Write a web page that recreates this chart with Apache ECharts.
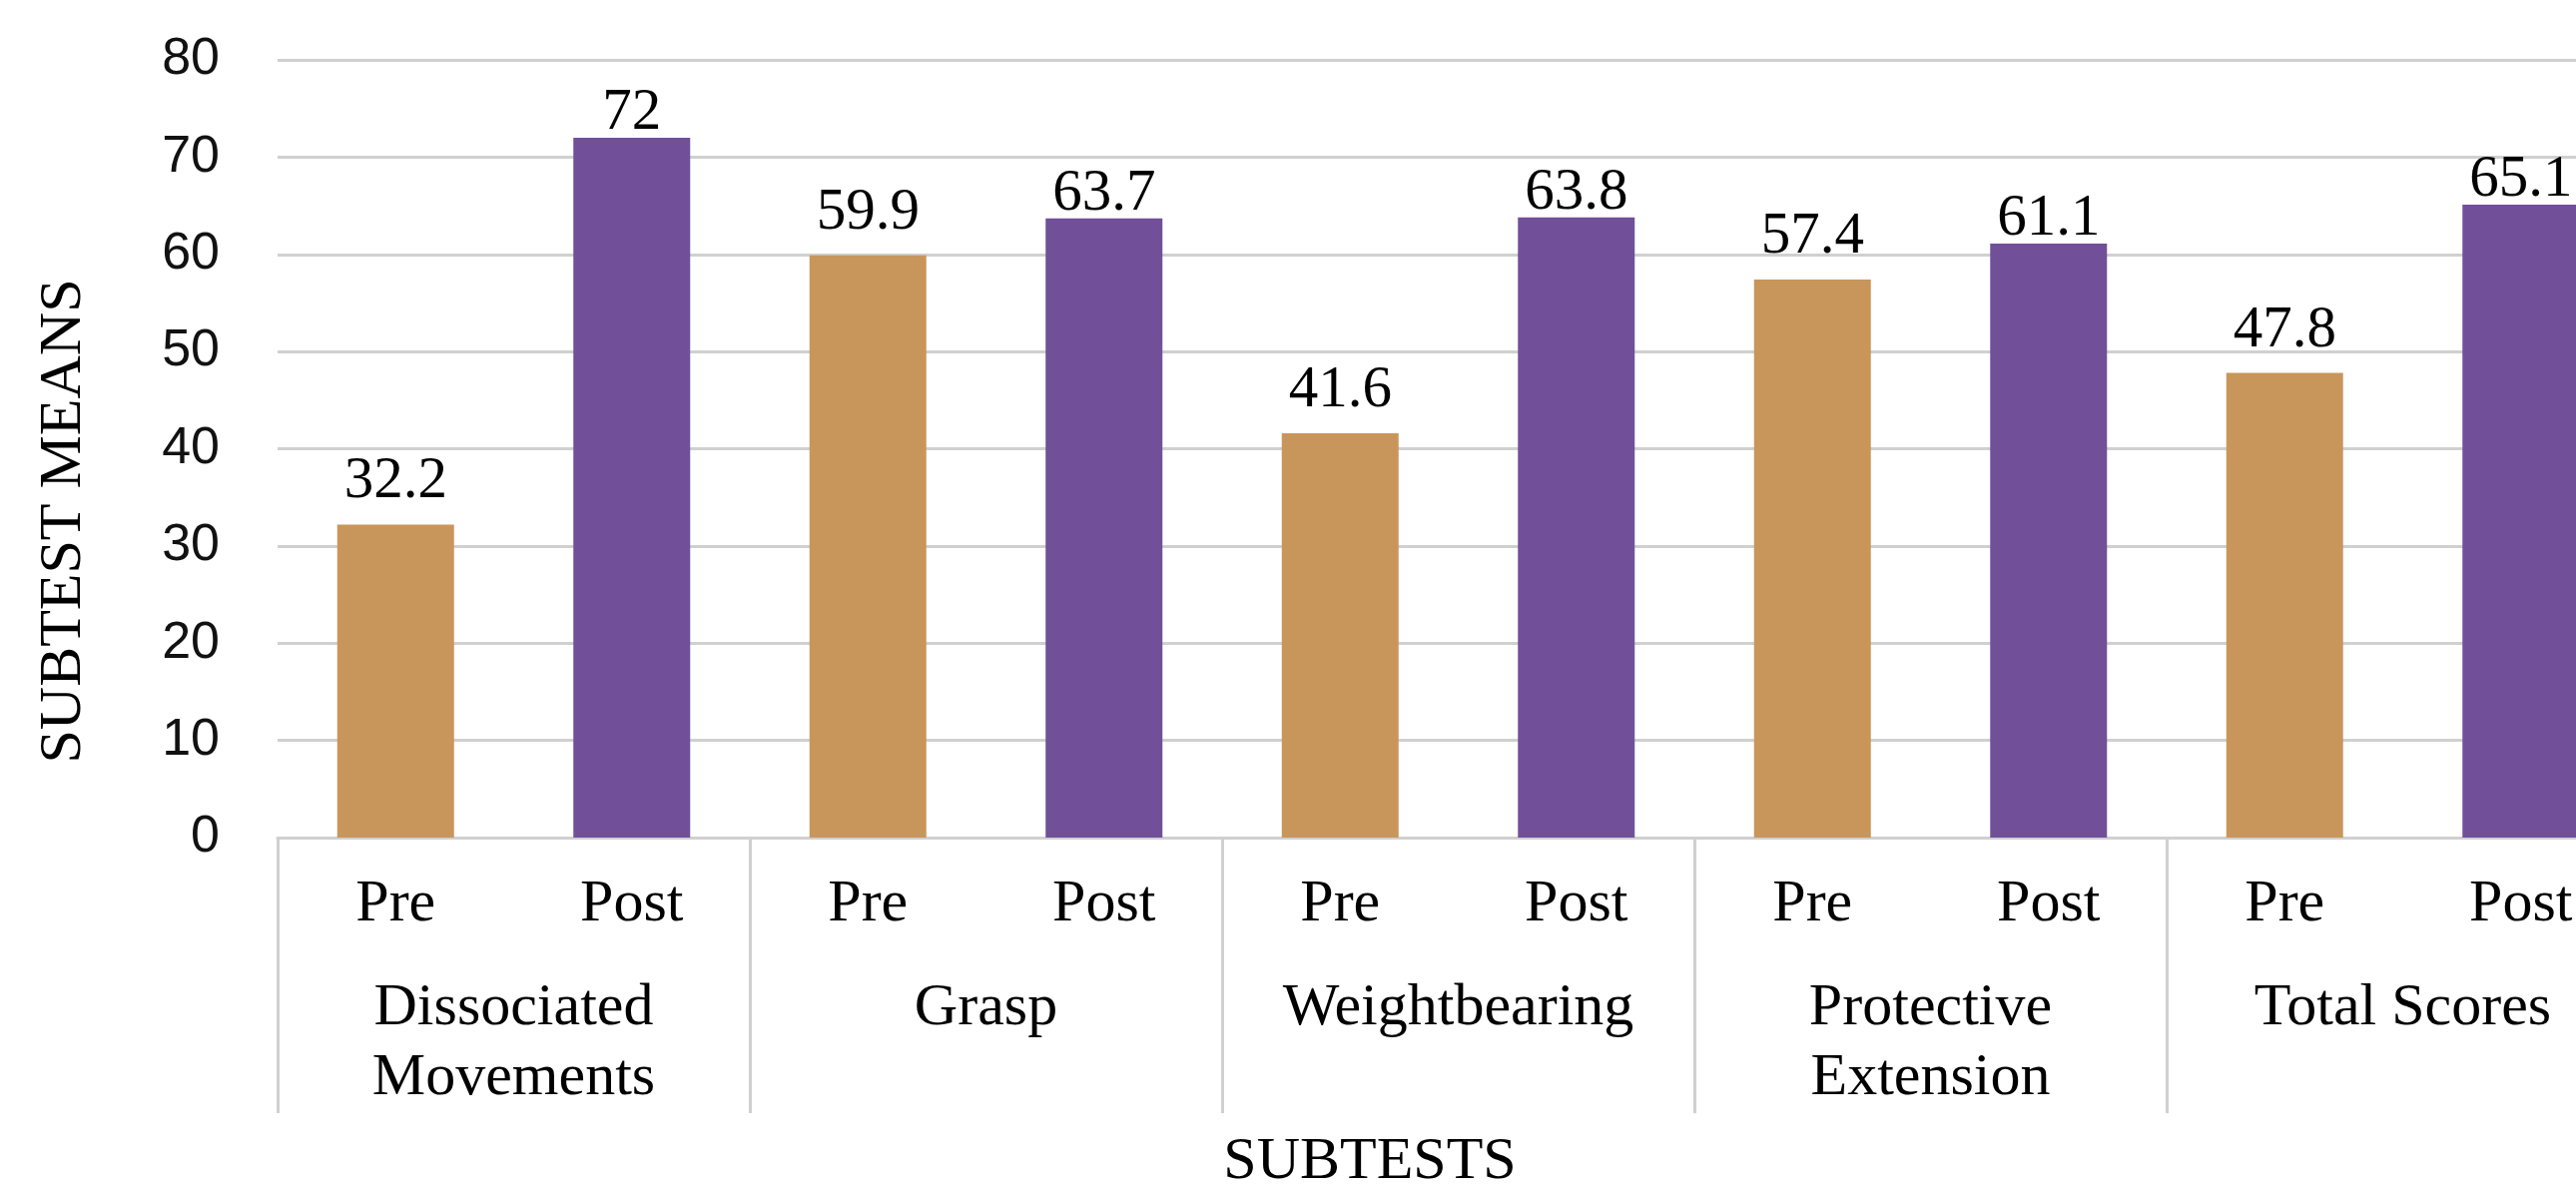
<!DOCTYPE html>
<html>
<head>
<meta charset="utf-8">
<script src="https://cdn.jsdelivr.net/npm/echarts@6/dist/echarts.min.js"></script>
<style>
  html, body { margin: 0; padding: 0; background: #ffffff; }
  #chart { width: 2580px; height: 1191px; }
</style>
</head>
<body>
<div id="chart"></div>
<script>
// ---- data ----
const groups = ['Dissociated\nMovements', 'Grasp', 'Weightbearing', 'Protective\nExtension', 'Total Scores'];
const phases = ['Pre', 'Post'];
const preValues = [32.2, 59.9, 41.6, 57.4, 47.8];
const postValues = [72, 63.7, 63.8, 61.1, 65.1];
const yTicks = [0, 10, 20, 30, 40, 50, 60, 70, 80];
const yTitle = 'SUBTEST MEANS';
const xTitle = 'SUBTESTS';

// ---- build category slots ----
const categories = [];
groups.forEach(() => phases.forEach(p => categories.push(p)));
const preSeries = [];
const postSeries = [];
groups.forEach((g, i) => {
  preSeries.push(preValues[i], '-');
  postSeries.push('-', postValues[i]);
});

const serif = 'Liberation Serif';
const sans = 'Liberation Sans';
const gridColor = '#d0d0d0';

const chart = echarts.init(document.getElementById('chart'), null, { renderer: 'canvas' });
chart.setOption({
  backgroundColor: '#ffffff',
  animation: false,
  grid: { left: 278, top: 60, width: 2365, height: 779, containLabel: false, outerBoundsMode: 'none' },
  xAxis: [
    {
      type: 'category',
      data: categories,
      position: 'bottom',
      axisLine: { show: true, lineStyle: { color: gridColor, width: 3 } },
      axisTick: { show: false },
      axisLabel: { fontFamily: serif, fontSize: 60, color: '#000', margin: 37 }
    },
    {
      type: 'category',
      data: groups,
      position: 'bottom',
      axisLine: { show: false },
      axisTick: { show: true, length: 276, lineStyle: { color: gridColor, width: 3 } },
      axisLabel: { fontFamily: serif, fontSize: 60, lineHeight: 70, color: '#000', margin: 136 }
    }
  ],
  yAxis: {
    type: 'value',
    min: yTicks[0],
    max: yTicks[yTicks.length - 1],
    interval: yTicks[1] - yTicks[0],
    axisLine: { show: false },
    axisTick: { show: false },
    splitLine: { show: true, lineStyle: { color: gridColor, width: 3 } },
    axisLabel: { fontFamily: sans, fontSize: 52, color: '#111', margin: 58 }
  },
  series: [
    {
      name: phases[0],
      type: 'bar',
      data: preSeries,
      barWidth: 117,
      barGap: '-100%',
      itemStyle: { color: '#C8965A' },
      label: { show: true, position: 'top', distance: 13, fontFamily: serif, fontSize: 59, color: '#000' }
    },
    {
      name: phases[1],
      type: 'bar',
      data: postSeries,
      barWidth: 117,
      barGap: '-100%',
      itemStyle: { color: '#715099' },
      label: { show: true, position: 'top', distance: -5, fontFamily: serif, fontSize: 59, color: '#000' }
    }
  ],
  graphic: [
    {
      type: 'text',
      x: 64, y: 522,
      rotation: Math.PI / 2,
      style: { text: yTitle, fontFamily: serif, fontSize: 60, fill: '#000', align: 'center', verticalAlign: 'middle' }
    },
    {
      type: 'text',
      x: 1372, y: 1164,
      style: { text: xTitle, fontFamily: serif, fontSize: 60, fill: '#000', align: 'center', verticalAlign: 'middle' }
    }
  ]
});
</script>
</body>
</html>
